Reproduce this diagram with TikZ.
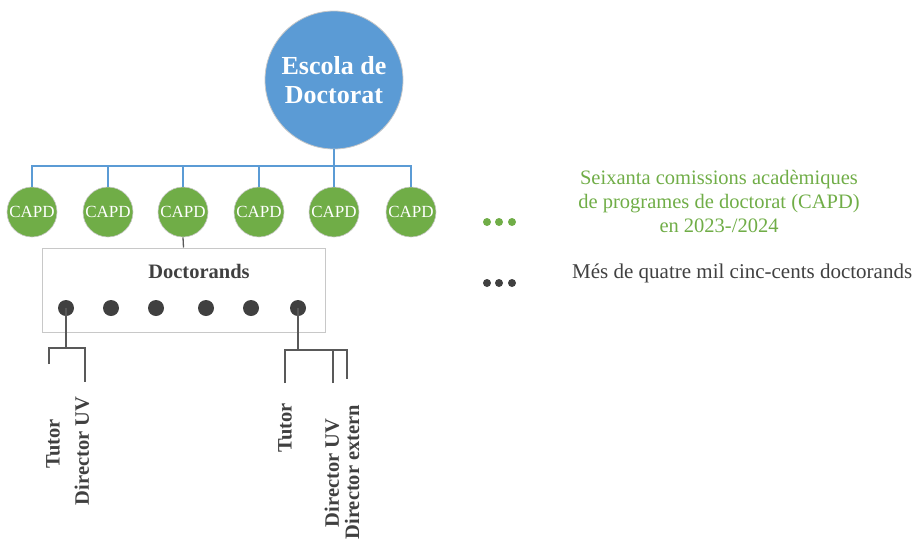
\documentclass[tikz,border=0pt]{standalone}
\usepackage{fontspec}
\setmainfont{Liberation Serif}
\usepackage{tikz}
\definecolor{schoolblue}{HTML}{5B9BD5}
\definecolor{capdgreen}{HTML}{70AD47}
\definecolor{darkgrey}{HTML}{404040}
\definecolor{boxgrey}{HTML}{C8C8C8}
\definecolor{linegrey}{HTML}{595959}

\begin{document}
\begin{tikzpicture}[
    x=1pt, y=-1pt,
    school/.style={
        circle, fill=schoolblue, draw=boxgrey, line width=0.8pt,
        minimum size=138pt, inner sep=0pt,
        align=center, text=white,
        font=\fontsize{26}{29}\selectfont\bfseries
    },
    capd/.style={
        circle, fill=capdgreen, draw=boxgrey, line width=0.6pt,
        minimum size=50pt, inner sep=0pt,
        text=white, font=\fontsize{17}{20}\selectfont
    },
    student/.style={circle, fill=darkgrey, minimum size=16pt, inner sep=0pt},
    bullet/.style={circle, minimum size=8pt, inner sep=0pt},
    role/.style={
        rotate=90, inner sep=0pt, text=darkgrey,
        font=\fontsize{20.5}{24}\selectfont\bfseries
    },
    blueline/.style={draw=schoolblue, line width=1.5pt},
    greyline/.style={draw=linegrey, line width=1.3pt}
]
\useasboundingbox (0,0) rectangle (917,542);

% escola and the CAPD row
\node[school] (escola) at (334,80) {Escola de\\Doctorat};
\coordinate (bus) at (334,166);

\node[capd] (capd1) at (32,212) {CAPD};
\node[capd] (capd2) at (108,212) {CAPD};
\node[capd] (capd3) at (183,212) {CAPD};
\node[capd] (capd4) at (259,212) {CAPD};
\node[capd] (capd5) at (334,212) {CAPD};
\node[capd] (capd6) at (411,212) {CAPD};

\draw[blueline] (escola.south) -- (bus);
\draw[blueline] (capd1.north) |- (bus);
\draw[blueline] (capd2.north) |- (bus);
\draw[blueline] (capd3.north) |- (bus);
\draw[blueline] (capd4.north) |- (bus);
\draw[blueline] (capd5.north) -- (bus);
\draw[blueline] (capd6.north) |- (bus);

% doctorands
\node[draw=boxgrey, line width=1pt, minimum width=283pt, minimum height=84pt] (box) at (183.5,290) {};
\node[text=darkgrey, font=\fontsize{20.5}{24}\selectfont\bfseries] (doctorands) at (199,271) {Doctorands};
\draw[greyline] (capd3.south) -- (box.north);

\node[student] (d1) at (66,308) {};
\node[student] (d2) at (111,308) {};
\node[student] (d3) at (156,308) {};
\node[student] (d4) at (206,308) {};
\node[student] (d5) at (251,308) {};
\node[student] (d6) at (298,308) {};

% supervisors
\coordinate (lsplit) at (66,348);
\coordinate (lend1) at (49,364);
\coordinate (lend2) at (85,382);
\draw[greyline] (d1.center) -- (lsplit);
\draw[greyline] (lend1) |- (lsplit) -| (lend2);

\coordinate (rsplit) at (298,350);
\coordinate (rend1) at (285,383);
\coordinate (rend2) at (333,383);
\coordinate (rend3) at (347,379);
\draw[greyline] (d6.center) -- (rsplit);
\draw[greyline] (rend1) |- (rsplit) -| (rend3);
\draw[greyline] (rend2) -- (rend2 |- rsplit);

\node[role] (ltutor) at (53,444) {Tutor};
\node[role] (ldirector) at (82,451) {Director UV};
\node[role] (rtutor) at (285,428) {Tutor};
\node[role] (rdirector) at (332,473) {Director UV};
\node[role] (rextern) at (352,472) {Director extern};

% legend
\node[bullet, fill=capdgreen] (g1) at (487,222) {};
\node[bullet, fill=capdgreen] (g2) at (499,222) {};
\node[bullet, fill=capdgreen] (g3) at (512,222) {};
\node[align=center, text=capdgreen, font=\fontsize{20.5}{24}\selectfont] (capdtext) at (719,201)
    {Seixanta comissions acadèmiques\\de programes de doctorat (CAPD)\\en 2023-/2024};

\node[bullet, fill=darkgrey] (b1) at (487,283) {};
\node[bullet, fill=darkgrey] (b2) at (499,283) {};
\node[bullet, fill=darkgrey] (b3) at (512,283) {};
\node[anchor=west, inner sep=0pt, text=darkgrey, font=\fontsize{21}{24}\selectfont] (doctext) at (572,273)
    {Més de quatre mil cinc-cents doctorands};
\end{tikzpicture}
\end{document}
